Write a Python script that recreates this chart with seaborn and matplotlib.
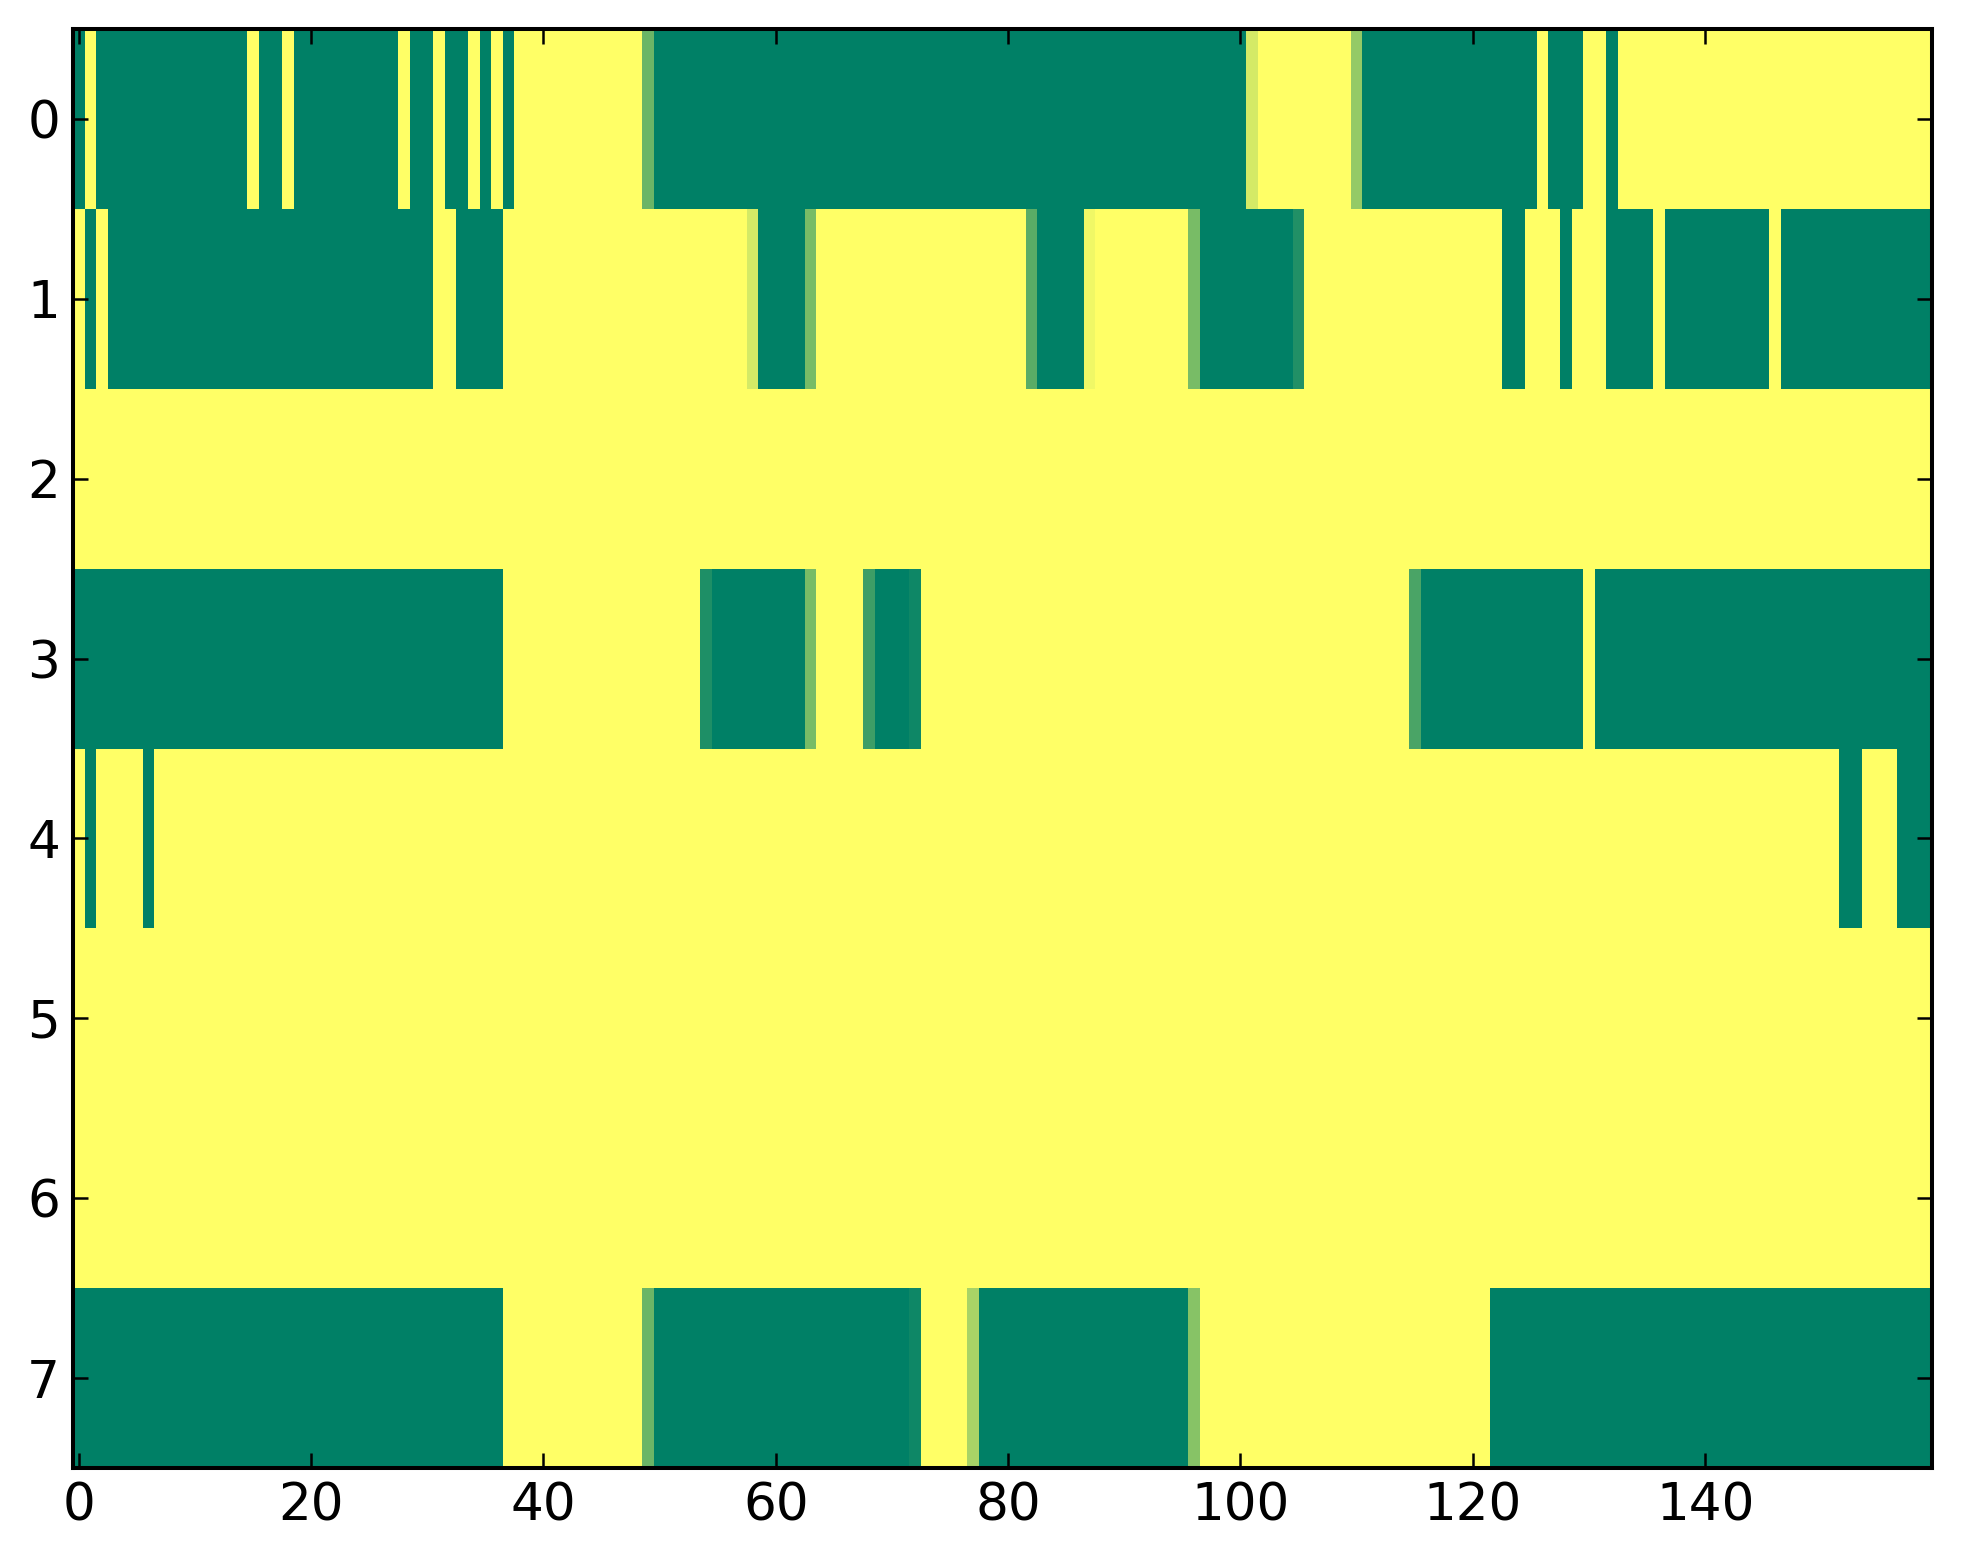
"""Binary state heatmap (8 channels x 160 steps) in the classic matplotlib look."""

import matplotlib

matplotlib.use("Agg")
import matplotlib.pyplot as plt
import numpy as np
import pandas as pd
import seaborn as sns

# values, one list per row (0 = green, 1 = yellow)
row_0 = [
    0, 1, 0, 0, 0, 0, 0, 0, 0, 0, 0, 0, 0, 0, 0, 1, 0, 0, 1, 0,
    0, 0, 0, 0, 0, 0, 0, 0, 1, 0, 0, 1, 0, 0, 1, 0, 1, 0, 1, 1,
    1, 1, 1, 1, 1, 1, 1, 1, 1, 0.42, 0, 0, 0, 0, 0, 0, 0, 0, 0, 0,
    0, 0, 0, 0, 0, 0, 0, 0, 0, 0, 0, 0, 0, 0, 0, 0, 0, 0, 0, 0,
    0, 0, 0, 0, 0, 0, 0, 0, 0, 0, 0, 0, 0, 0, 0, 0, 0, 0, 0, 0,
    0, 0.83, 1, 1, 1, 1, 1, 1, 1, 1, 0.58, 0, 0, 0, 0, 0, 0, 0, 0, 0,
    0, 0, 0, 0, 0, 0, 1, 0, 0, 0, 1, 1, 0, 1, 1, 1, 1, 1, 1, 1,
    1, 1, 1, 1, 1, 1, 1, 1, 1, 1, 1, 1, 1, 1, 1, 1, 1, 1, 1, 1,
]
row_1 = [
    1, 0, 1, 0, 0, 0, 0, 0, 0, 0, 0, 0, 0, 0, 0, 0, 0, 0, 0, 0,
    0, 0, 0, 0, 0, 0, 0, 0, 0, 0, 0, 1, 1, 0, 0, 0, 0, 1, 1, 1,
    1, 1, 1, 1, 1, 1, 1, 1, 1, 1, 1, 1, 1, 1, 1, 1, 1, 1, 0.83, 0,
    0, 0, 0, 0.47, 1, 1, 1, 1, 1, 1, 1, 1, 1, 1, 1, 1, 1, 1, 1, 1,
    1, 1, 0.35, 0, 0, 0, 0, 0.94, 1, 1, 1, 1, 1, 1, 1, 1, 0.47, 0, 0, 0,
    0, 0, 0, 0, 0, 0.13, 1, 1, 1, 1, 1, 1, 1, 1, 1, 1, 1, 1, 1, 1,
    1, 1, 1, 0, 0, 1, 1, 1, 0, 1, 1, 1, 0, 0, 0, 0, 1, 0, 0, 0,
    0, 0, 0, 0, 0, 0, 1, 0, 0, 0, 0, 0, 0, 0, 0, 0, 0, 0, 0, 0,
]
row_2 = [
    1, 1, 1, 1, 1, 1, 1, 1, 1, 1, 1, 1, 1, 1, 1, 1, 1, 1, 1, 1,
    1, 1, 1, 1, 1, 1, 1, 1, 1, 1, 1, 1, 1, 1, 1, 1, 1, 1, 1, 1,
    1, 1, 1, 1, 1, 1, 1, 1, 1, 1, 1, 1, 1, 1, 1, 1, 1, 1, 1, 1,
    1, 1, 1, 1, 1, 1, 1, 1, 1, 1, 1, 1, 1, 1, 1, 1, 1, 1, 1, 1,
    1, 1, 1, 1, 1, 1, 1, 1, 1, 1, 1, 1, 1, 1, 1, 1, 1, 1, 1, 1,
    1, 1, 1, 1, 1, 1, 1, 1, 1, 1, 1, 1, 1, 1, 1, 1, 1, 1, 1, 1,
    1, 1, 1, 1, 1, 1, 1, 1, 1, 1, 1, 1, 1, 1, 1, 1, 1, 1, 1, 1,
    1, 1, 1, 1, 1, 1, 1, 1, 1, 1, 1, 1, 1, 1, 1, 1, 1, 1, 1, 1,
]
row_3 = [
    0, 0, 0, 0, 0, 0, 0, 0, 0, 0, 0, 0, 0, 0, 0, 0, 0, 0, 0, 0,
    0, 0, 0, 0, 0, 0, 0, 0, 0, 0, 0, 0, 0, 0, 0, 0, 0, 1, 1, 1,
    1, 1, 1, 1, 1, 1, 1, 1, 1, 1, 1, 1, 1, 1, 0.12, 0, 0, 0, 0, 0,
    0, 0, 0, 0.47, 1, 1, 1, 1, 0.24, 0, 0, 0, 0.055, 1, 1, 1, 1, 1, 1, 1,
    1, 1, 1, 1, 1, 1, 1, 1, 1, 1, 1, 1, 1, 1, 1, 1, 1, 1, 1, 1,
    1, 1, 1, 1, 1, 1, 1, 1, 1, 1, 1, 1, 1, 1, 1, 0.29, 0, 0, 0, 0,
    0, 0, 0, 0, 0, 0, 0, 0, 0, 0, 1, 0, 0, 0, 0, 0, 0, 0, 0, 0,
    0, 0, 0, 0, 0, 0, 0, 0, 0, 0, 0, 0, 0, 0, 0, 0, 0, 0, 0, 0,
]
row_4 = [
    1, 0, 1, 1, 1, 1, 0, 1, 1, 1, 1, 1, 1, 1, 1, 1, 1, 1, 1, 1,
    1, 1, 1, 1, 1, 1, 1, 1, 1, 1, 1, 1, 1, 1, 1, 1, 1, 1, 1, 1,
    1, 1, 1, 1, 1, 1, 1, 1, 1, 1, 1, 1, 1, 1, 1, 1, 1, 1, 1, 1,
    1, 1, 1, 1, 1, 1, 1, 1, 1, 1, 1, 1, 1, 1, 1, 1, 1, 1, 1, 1,
    1, 1, 1, 1, 1, 1, 1, 1, 1, 1, 1, 1, 1, 1, 1, 1, 1, 1, 1, 1,
    1, 1, 1, 1, 1, 1, 1, 1, 1, 1, 1, 1, 1, 1, 1, 1, 1, 1, 1, 1,
    1, 1, 1, 1, 1, 1, 1, 1, 1, 1, 1, 1, 1, 1, 1, 1, 1, 1, 1, 1,
    1, 1, 1, 1, 1, 1, 1, 1, 1, 1, 1, 1, 0, 0, 1, 1, 1, 0, 0, 0,
]
row_5 = [
    1, 1, 1, 1, 1, 1, 1, 1, 1, 1, 1, 1, 1, 1, 1, 1, 1, 1, 1, 1,
    1, 1, 1, 1, 1, 1, 1, 1, 1, 1, 1, 1, 1, 1, 1, 1, 1, 1, 1, 1,
    1, 1, 1, 1, 1, 1, 1, 1, 1, 1, 1, 1, 1, 1, 1, 1, 1, 1, 1, 1,
    1, 1, 1, 1, 1, 1, 1, 1, 1, 1, 1, 1, 1, 1, 1, 1, 1, 1, 1, 1,
    1, 1, 1, 1, 1, 1, 1, 1, 1, 1, 1, 1, 1, 1, 1, 1, 1, 1, 1, 1,
    1, 1, 1, 1, 1, 1, 1, 1, 1, 1, 1, 1, 1, 1, 1, 1, 1, 1, 1, 1,
    1, 1, 1, 1, 1, 1, 1, 1, 1, 1, 1, 1, 1, 1, 1, 1, 1, 1, 1, 1,
    1, 1, 1, 1, 1, 1, 1, 1, 1, 1, 1, 1, 1, 1, 1, 1, 1, 1, 1, 1,
]
row_6 = [
    1, 1, 1, 1, 1, 1, 1, 1, 1, 1, 1, 1, 1, 1, 1, 1, 1, 1, 1, 1,
    1, 1, 1, 1, 1, 1, 1, 1, 1, 1, 1, 1, 1, 1, 1, 1, 1, 1, 1, 1,
    1, 1, 1, 1, 1, 1, 1, 1, 1, 1, 1, 1, 1, 1, 1, 1, 1, 1, 1, 1,
    1, 1, 1, 1, 1, 1, 1, 1, 1, 1, 1, 1, 1, 1, 1, 1, 1, 1, 1, 1,
    1, 1, 1, 1, 1, 1, 1, 1, 1, 1, 1, 1, 1, 1, 1, 1, 1, 1, 1, 1,
    1, 1, 1, 1, 1, 1, 1, 1, 1, 1, 1, 1, 1, 1, 1, 1, 1, 1, 1, 1,
    1, 1, 1, 1, 1, 1, 1, 1, 1, 1, 1, 1, 1, 1, 1, 1, 1, 1, 1, 1,
    1, 1, 1, 1, 1, 1, 1, 1, 1, 1, 1, 1, 1, 1, 1, 1, 1, 1, 1, 1,
]
row_7 = [
    0, 0, 0, 0, 0, 0, 0, 0, 0, 0, 0, 0, 0, 0, 0, 0, 0, 0, 0, 0,
    0, 0, 0, 0, 0, 0, 0, 0, 0, 0, 0, 0, 0, 0, 0, 0, 0, 1, 1, 1,
    1, 1, 1, 1, 1, 1, 1, 1, 1, 0.42, 0, 0, 0, 0, 0, 0, 0, 0, 0, 0,
    0, 0, 0, 0, 0, 0, 0, 0, 0, 0, 0, 0, 0.055, 1, 1, 1, 1, 0.66, 0, 0,
    0, 0, 0, 0, 0, 0, 0, 0, 0, 0, 0, 0, 0, 0, 0, 0, 0.53, 1, 1, 1,
    1, 1, 1, 1, 1, 1, 1, 1, 1, 1, 1, 1, 1, 1, 1, 1, 1, 1, 1, 1,
    1, 1, 0, 0, 0, 0, 0, 0, 0, 0, 0, 0, 0, 0, 0, 0, 0, 0, 0, 0,
    0, 0, 0, 0, 0, 0, 0, 0, 0, 0, 0, 0, 0, 0, 0, 0, 0, 0, 0, 0,
]

x_ticks = [0, 20, 40, 60, 80, 100, 120, 140]
y_ticks = [0, 1, 2, 3, 4, 5, 6, 7]

rows = [row_0, row_1, row_2, row_3, row_4, row_5, row_6, row_7]
df = pd.DataFrame(np.array(rows, dtype=float))

DPI = 200
fig = plt.figure(figsize=(1963 / DPI, 1564 / DPI), dpi=DPI)
ax = fig.add_axes([73 / 1963, 1 - 1468 / 1564, 1858.7 / 1963, 1439 / 1564])

sns.heatmap(
    df,
    cmap="summer",
    vmin=0,
    vmax=1,
    cbar=False,
    xticklabels=False,
    yticklabels=False,
    ax=ax,
)

# heatmap cells sit on [i, i+1], so ticks go on the centres
ax.set_xticks([t + 0.5 for t in x_ticks])
ax.set_xticklabels([str(t) for t in x_ticks])
ax.set_yticks([t + 0.5 for t in y_ticks])
ax.set_yticklabels([str(t) for t in y_ticks], rotation=0)

# classic look: black frame, inward ticks on all four sides
for spine in ax.spines.values():
    spine.set_visible(True)
    spine.set_color("black")
    spine.set_linewidth(1.45)
ax.tick_params(
    which="major",
    direction="in",
    length=5.4,
    width=0.9,
    color="black",
    top=True,
    right=True,
    labelsize=18.6,
    labelcolor="black",
    pad=4.7,
)

fig.savefig("out.png", dpi=DPI)
